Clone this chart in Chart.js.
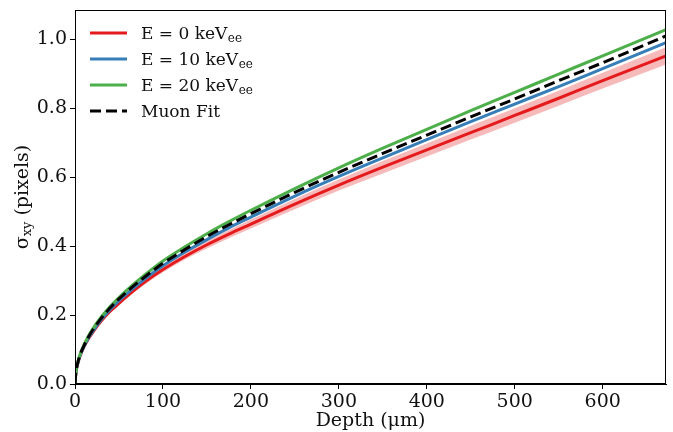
<!DOCTYPE html>
<html>
<head>
<meta charset="utf-8">
<script src="https://cdn.jsdelivr.net/npm/chart.js@4"></script>
<style>
  html, body { margin: 0; padding: 0; background: #fff; }
  #wrap { width: 673px; height: 432px; }
</style>
</head>
<body>
<div id="wrap"><canvas id="c" width="673" height="432"></canvas></div>
<script>
// depth in um
const depth = [0, 1, 3, 6, 10, 15, 20, 30, 40, 50, 65, 80, 100, 125, 150, 175, 200, 250, 300, 350, 400, 450, 500, 550, 600, 672]

// sigma_xy (pixels)
const e0Values  = [0, 0.032, 0.058, 0.083, 0.107, 0.130, 0.149, 0.183, 0.211, 0.234, 0.267, 0.297, 0.332, 0.370, 0.404, 0.435, 0.464, 0.522, 0.577, 0.629, 0.679, 0.729, 0.779, 0.829, 0.880, 0.952]
const e0Upper   = [0, 0.033, 0.060, 0.085, 0.110, 0.133, 0.153, 0.187, 0.216, 0.239, 0.273, 0.304, 0.340, 0.379, 0.415, 0.447, 0.477, 0.537, 0.593, 0.647, 0.698, 0.749, 0.800, 0.851, 0.903, 0.977]
const e0Lower   = [0, 0.031, 0.056, 0.081, 0.104, 0.127, 0.145, 0.179, 0.206, 0.229, 0.261, 0.290, 0.324, 0.361, 0.393, 0.423, 0.451, 0.507, 0.561, 0.611, 0.660, 0.709, 0.758, 0.807, 0.857, 0.927]
const e10Values = [0, 0.033, 0.059, 0.084, 0.108, 0.132, 0.152, 0.187, 0.216, 0.242, 0.275, 0.306, 0.343, 0.383, 0.419, 0.453, 0.484, 0.545, 0.602, 0.656, 0.709, 0.761, 0.812, 0.863, 0.915, 0.990]
const e20Values = [0, 0.035, 0.062, 0.088, 0.113, 0.138, 0.159, 0.195, 0.225, 0.251, 0.286, 0.318, 0.357, 0.398, 0.436, 0.471, 0.504, 0.567, 0.627, 0.684, 0.739, 0.793, 0.846, 0.899, 0.952, 1.028]
const muonFit   = [0, 0.034, 0.060, 0.086, 0.110, 0.135, 0.156, 0.191, 0.221, 0.247, 0.281, 0.312, 0.350, 0.390, 0.428, 0.462, 0.494, 0.556, 0.614, 0.669, 0.722, 0.775, 0.827, 0.880, 0.932, 1.010]

const legendItems = [
  { main: 'E = 0 keV',  sub: 'ee', color: '#e41a1c', dash: [] },
  { main: 'E = 10 keV', sub: 'ee', color: '#377eb8', dash: [] },
  { main: 'E = 20 keV', sub: 'ee', color: '#4daf4a', dash: [] },
  { main: 'Muon Fit',   sub: '',   color: '#000000', dash: [11, 5] }
]

const SERIF = "'DejaVu Serif', serif"
const pts = arr => arr.map((v, i) => ({ x: depth[i], y: v }))

const line = (label, data, color, order, extra = {}) => ({
  label, data: pts(data), borderColor: color, backgroundColor: color,
  borderWidth: 3, pointRadius: 0, cubicInterpolationMode: 'monotone', fill: false, order, ...extra
})

// spines, axis titles and legend
const decor = {
  id: 'decor',
  afterDraw (chart) {
    const { ctx, chartArea: a } = chart
    ctx.save()
    ctx.strokeStyle = '#000'; ctx.lineWidth = 1
    ctx.strokeRect(a.left + 0.5, a.top + 0.5, a.right - a.left - 1, a.bottom - a.top - 1)

    ctx.fillStyle = '#111'
    ctx.font = '19px ' + SERIF
    ctx.textAlign = 'center'; ctx.textBaseline = 'middle'
    ctx.fillText('Depth (\u03bcm)', (a.left + a.right) / 2, 421)

    // y title with subscript
    ctx.translate(22, (a.top + a.bottom) / 2)
    ctx.rotate(-Math.PI / 2)
    ctx.textAlign = 'left'; ctx.textBaseline = 'alphabetic'
    ctx.font = '19px ' + SERIF
    const w1 = ctx.measureText('\u03c3').width
    const w3 = ctx.measureText(' (pixels)').width
    ctx.font = '13px ' + SERIF
    const w2 = ctx.measureText('xy').width
    let x = -(w1 + w2 + w3) / 2
    ctx.font = '19px ' + SERIF; ctx.fillText('\u03c3', x, 6); x += w1
    ctx.font = '13px ' + SERIF; ctx.fillText('xy', x, 9); x += w2
    ctx.font = '19px ' + SERIF; ctx.fillText(' (pixels)', x, 6)
    ctx.restore()

    // legend
    ctx.save()
    legendItems.forEach((it, i) => {
      const y = 33 + i * 26
      ctx.strokeStyle = it.color; ctx.lineWidth = 3
      ctx.setLineDash(it.dash)
      ctx.beginPath(); ctx.moveTo(90, y); ctx.lineTo(127, y); ctx.stroke()
      ctx.setLineDash([])
      ctx.fillStyle = '#111'; ctx.textAlign = 'left'; ctx.textBaseline = 'alphabetic'
      ctx.font = '17px ' + SERIF
      ctx.fillText(it.main, 141, y + 6)
      if (it.sub) {
        const w = ctx.measureText(it.main).width
        ctx.font = '12px ' + SERIF
        ctx.fillText(it.sub, 141 + w + 0.5, y + 9)
      }
    })
    ctx.restore()
  }
}

const tickFont = { size: 19, family: SERIF }

new Chart(document.getElementById('c'), {
  type: 'line',
  data: {
    datasets: [
      { label: 'lo', data: pts(e0Lower), borderWidth: 0, pointRadius: 0, borderColor: 'rgba(0,0,0,0)', fill: false, cubicInterpolationMode: 'monotone', order: 10 },
      { label: 'hi', data: pts(e0Upper), borderWidth: 0, pointRadius: 0, borderColor: 'rgba(0,0,0,0)', backgroundColor: 'rgba(228,26,28,0.3)', fill: '-1', cubicInterpolationMode: 'monotone', order: 9 },
      line('E = 0 keVee', e0Values, '#e41a1c', 4),
      line('E = 10 keVee', e10Values, '#377eb8', 3),
      line('E = 20 keVee', e20Values, '#4daf4a', 2),
      line('Muon Fit', muonFit, '#000000', 1, { borderDash: [11, 5] })
    ]
  },
  options: {
    responsive: false, animation: false,
    layout: { padding: { top: 10, right: 7, left: 0, bottom: 0 } },
    plugins: { legend: { display: false }, tooltip: { enabled: false } },
    scales: {
      x: {
        type: 'linear', min: 0, max: 672,
        ticks: { stepSize: 100, includeBounds: false, color: '#111', font: tickFont, padding: 2, maxRotation: 0 },
        grid: { drawOnChartArea: false, tickLength: 5, color: '#000' },
        border: { color: '#000', width: 1 },
        afterFit: s => { s.height = 48; s.paddingLeft = 0; s.paddingRight = 0 }
      },
      y: {
        min: 0, max: 1.085,
        ticks: { stepSize: 0.2, includeBounds: false, color: '#111', font: tickFont, padding: 3, callback: v => v.toFixed(1) },
        grid: { drawOnChartArea: false, tickLength: 5, color: '#000' },
        border: { color: '#000', width: 1 },
        afterFit: s => { s.width = 75; s.paddingTop = 0; s.paddingBottom = 0 }
      }
    }
  },
  plugins: [decor]
})
</script>
</body>
</html>
